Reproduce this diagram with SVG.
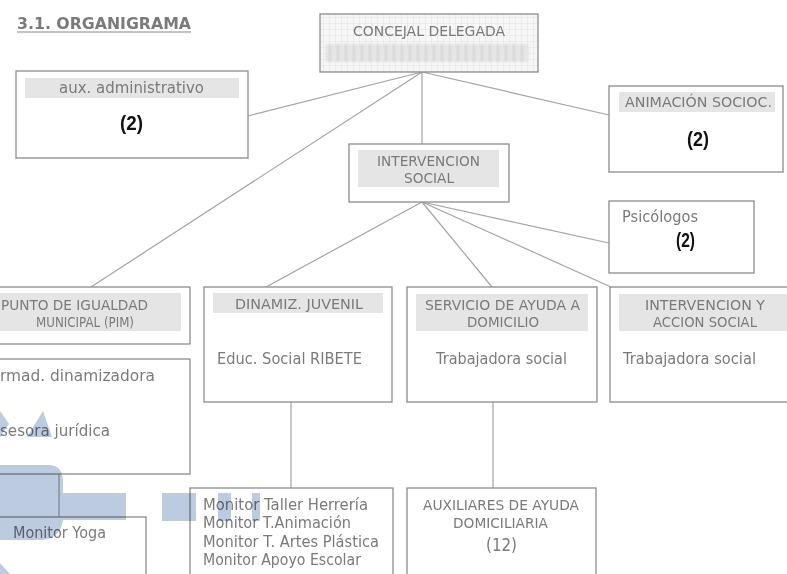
<svg xmlns="http://www.w3.org/2000/svg" width="787" height="574" viewBox="0 0 787 574">
<defs>
<style>
.box{fill:#ffffff;stroke:#8c8c8c;stroke-width:1.3}
.band{fill:#e5e5e5}
.t{font-family:"DejaVu Sans","Liberation Sans",sans-serif;font-size:14.5px;fill:#7a7a7a}
.m{font-family:"DejaVu Sans","Liberation Sans",sans-serif;font-size:15px;fill:#7a7a7a}
.b{font-family:"DejaVu Sans","Liberation Sans",sans-serif;font-size:16.5px;fill:#7a7a7a}
.n{font-family:"Liberation Sans",Arial,sans-serif;font-size:20px;font-weight:bold;fill:#111111}
.title{font-family:"DejaVu Sans","Liberation Sans",sans-serif;font-size:16px;font-weight:bold;fill:#7a7a7a}
.c{fill:none;stroke:#a3a3a3;stroke-width:1.2}
.wm{fill:#bccbe0;mix-blend-mode:multiply}
</style>
<pattern id="grid" width="6" height="6" patternUnits="userSpaceOnUse">
<rect width="6" height="6" fill="#f7f7f7"/>
<path d="M6 0V6M0 6H6" stroke="#e2e2e2" stroke-width="1"/>
</pattern>
<pattern id="stripes" width="8" height="20" patternUnits="userSpaceOnUse">
<rect width="8" height="20" fill="#e6e6e6"/>
<rect x="1" width="2" height="20" fill="#d2d2d2"/>
</pattern>
<filter id="blur" x="-5%" y="-20%" width="110%" height="140%">
<feGaussianBlur stdDeviation="1.2"/>
</filter>
</defs>
<rect width="787" height="574" fill="#ffffff"/>

<g id="title">
<text class="title" x="17" y="29" textLength="174" lengthAdjust="spacingAndGlyphs">3.1. ORGANIGRAMA</text>
<line x1="17" y1="32" x2="191" y2="32" stroke="#8a8a8a" stroke-width="1.2"/>
</g>

<g id="connectors">
<line class="c" x1="422" y1="72" x2="248" y2="116"/>
<line class="c" x1="422" y1="72" x2="91" y2="287"/>
<line class="c" x1="422" y1="72" x2="422" y2="144"/>
<line class="c" x1="422" y1="72" x2="609" y2="115"/>
<line class="c" x1="422" y1="202" x2="266" y2="287"/>
<line class="c" x1="422" y1="202" x2="492" y2="287"/>
<line class="c" x1="422" y1="202" x2="611" y2="287"/>
<line class="c" x1="422" y1="202" x2="609" y2="243"/>
<line class="c" x1="291" y1="402" x2="291" y2="488"/>
<line class="c" x1="493" y1="402" x2="493" y2="488"/>
<line class="c" x1="59" y1="474" x2="59" y2="517"/>
</g>

<g id="concejal">
<rect x="320" y="14" width="218" height="58" fill="url(#grid)" stroke="#8c8c8c" stroke-width="1.3"/>
<text class="t" x="353" y="36" textLength="152" lengthAdjust="spacingAndGlyphs">CONCEJAL DELEGADA</text>
<rect x="325" y="44" width="204" height="18" fill="url(#stripes)" filter="url(#blur)"/>
</g>

<g id="aux">
<rect class="box" x="16" y="71" width="232" height="87"/>
<rect class="band" x="25" y="78" width="214" height="20"/>
<text class="m" x="59" y="93" textLength="145" lengthAdjust="spacingAndGlyphs">aux. administrativo</text>
<text class="n" x="120" y="130" textLength="23" lengthAdjust="spacingAndGlyphs">(2)</text>
</g>

<g id="animacion">
<rect class="box" x="609" y="86" width="174" height="86"/>
<rect class="band" x="619" y="92" width="156" height="20"/>
<text class="t" x="625" y="107" textLength="147" lengthAdjust="spacingAndGlyphs">ANIMACIÓN SOCIOC.</text>
<text class="n" x="687" y="146" textLength="22" lengthAdjust="spacingAndGlyphs">(2)</text>
</g>

<g id="intervencion-social">
<rect class="box" x="349" y="144" width="160" height="58"/>
<rect class="band" x="358" y="150" width="141" height="37"/>
<text class="t" x="377" y="166" textLength="103" lengthAdjust="spacingAndGlyphs">INTERVENCION</text>
<text class="t" x="404" y="183" textLength="50" lengthAdjust="spacingAndGlyphs">SOCIAL</text>
</g>

<g id="psicologos">
<rect class="box" x="609" y="201" width="145" height="72"/>
<text class="m" x="622" y="222" textLength="76" lengthAdjust="spacingAndGlyphs">Psicólogos</text>
<text class="n" x="676" y="247" textLength="19" lengthAdjust="spacingAndGlyphs">(2)</text>
</g>

<g id="pim">
<rect class="box" x="-5" y="287" width="195" height="57"/>
<rect class="band" x="-5" y="293" width="186" height="38"/>
<text class="t" x="1" y="310" textLength="147" lengthAdjust="spacingAndGlyphs">PUNTO DE IGUALDAD</text>
<text class="t" x="36" y="327" textLength="98" lengthAdjust="spacingAndGlyphs" style="font-size:13.5px">MUNICIPAL (PIM)</text>
</g>

<g id="formad">
<rect class="box" x="-5" y="359" width="195" height="115"/>
<text class="b" x="0" y="381" textLength="155" lengthAdjust="spacingAndGlyphs">rmad.  dinamizadora</text>
<text class="b" x="0" y="436" textLength="110" lengthAdjust="spacingAndGlyphs">sesora jurídica</text>
</g>

<g id="yoga">
<rect class="box" x="-5" y="517" width="151" height="70"/>
<text class="m" x="13" y="538" textLength="93" lengthAdjust="spacingAndGlyphs">Monitor Yoga</text>
</g>

<g id="dinamiz">
<rect class="box" x="204" y="287" width="188" height="115"/>
<rect class="band" x="213" y="293" width="170" height="20"/>
<text class="t" x="235" y="309" textLength="128" lengthAdjust="spacingAndGlyphs">DINAMIZ. JUVENIL</text>
<text class="b" x="217" y="364" textLength="145" lengthAdjust="spacingAndGlyphs">Educ. Social RIBETE</text>
</g>

<g id="servicio">
<rect class="box" x="407" y="287" width="190" height="115"/>
<rect class="band" x="416" y="294" width="172" height="37"/>
<text class="t" x="425" y="310" textLength="155" lengthAdjust="spacingAndGlyphs">SERVICIO DE AYUDA A</text>
<text class="t" x="467" y="327" textLength="72" lengthAdjust="spacingAndGlyphs">DOMICILIO</text>
<text class="b" x="436" y="364" textLength="131" lengthAdjust="spacingAndGlyphs">Trabajadora social</text>
</g>

<g id="intervencion-accion">
<rect class="box" x="610" y="287" width="200" height="115"/>
<rect class="band" x="619" y="294" width="180" height="37"/>
<text class="t" x="645" y="310" textLength="120" lengthAdjust="spacingAndGlyphs">INTERVENCION Y</text>
<text class="t" x="653" y="327" textLength="104" lengthAdjust="spacingAndGlyphs">ACCION SOCIAL</text>
<text class="b" x="623" y="364" textLength="133" lengthAdjust="spacingAndGlyphs">Trabajadora social</text>
</g>

<g id="monitores">
<rect class="box" x="190" y="488" width="203" height="100"/>
<text class="m" x="203" y="510" textLength="165" lengthAdjust="spacingAndGlyphs">Monitor Taller Herrería</text>
<text class="m" x="203" y="528" textLength="148" lengthAdjust="spacingAndGlyphs">Monitor T.Animación</text>
<text class="m" x="203" y="547" textLength="176" lengthAdjust="spacingAndGlyphs">Monitor T. Artes Plástica</text>
<text class="m" x="203" y="565" textLength="158" lengthAdjust="spacingAndGlyphs">Monitor Apoyo Escolar</text>
</g>

<g id="auxiliares">
<rect class="box" x="407" y="488" width="189" height="100"/>
<text class="t" x="423" y="510" textLength="156" lengthAdjust="spacingAndGlyphs">AUXILIARES DE AYUDA</text>
<text class="t" x="453" y="528" textLength="95" lengthAdjust="spacingAndGlyphs">DOMICILIARIA</text>
<text x="486" y="551" textLength="31" lengthAdjust="spacingAndGlyphs" font-family="DejaVu Sans, Liberation Sans, sans-serif" font-size="17" fill="#7a7a7a">(12)</text>
</g>

<g id="watermark">
<polygon class="wm" points="0,411 9,424 0,437"/>
<polygon class="wm" points="27,437 43,411 52,437"/>
<path class="wm" d="M0,465 L50,465 Q63,466 63,482 L63,493 L126,493 L126,520 L63,520 Q60,540 40,540 L0,540 Z"/>
<polygon class="wm" points="0,563 10,574 0,574"/>
<rect class="wm" x="162" y="493" width="34" height="28"/>
<rect class="wm" x="218" y="493" width="13" height="28"/>
<rect class="wm" x="252" y="493" width="8" height="28"/>
</g>
</svg>
